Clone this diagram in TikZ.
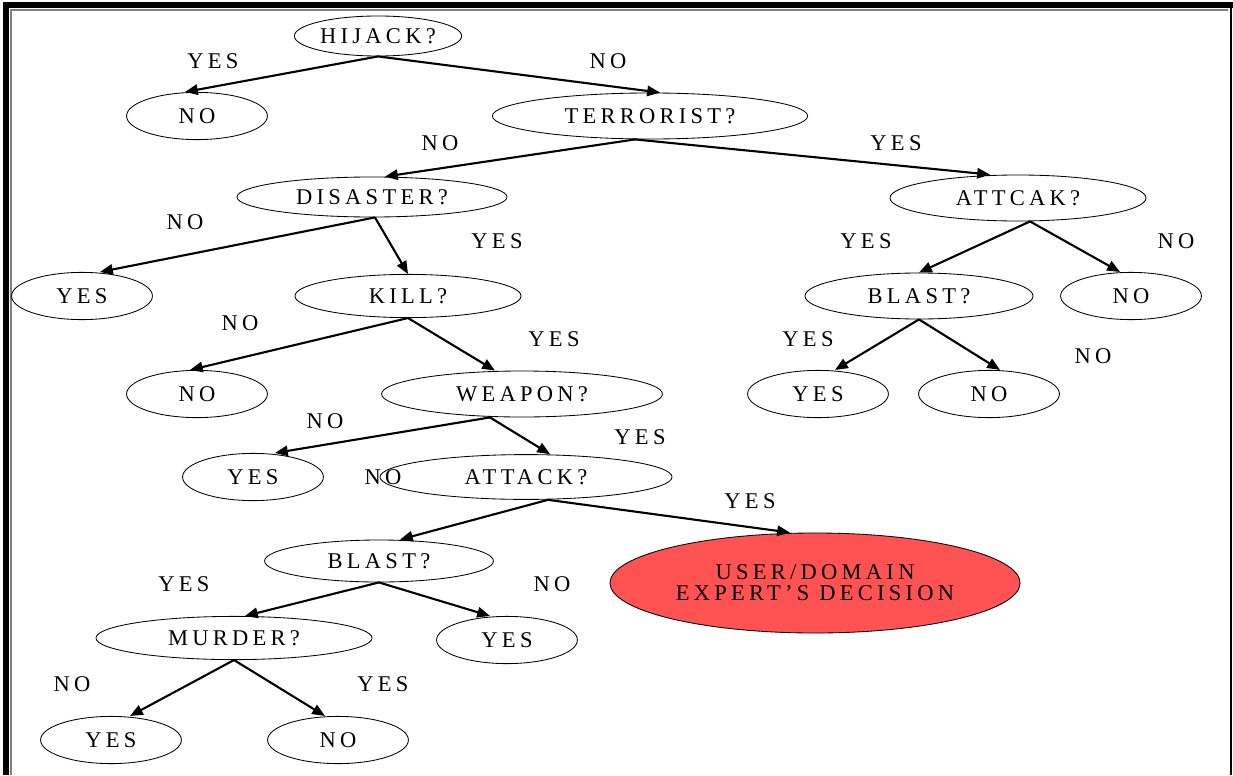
\documentclass[tikz,border=0pt]{standalone}
\usepackage{fontspec}
\usepackage{tikz}
\usetikzlibrary{arrows.meta,shapes.geometric,calc}
\newfontfamily\treefont[LetterSpace=19]{Liberation Serif}
\definecolor{verdictred}{HTML}{FF5252}
\tikzset{query/.style={ellipse,draw=black,line width=0.6pt,inner sep=0pt,minimum height=1.15cm,font=\fontsize{16}{15}\treefont,align=center}, leaf/.style={query,minimum width=3.52cm,minimum height=1.18cm}, verdict/.style={query,fill=verdictred,minimum width=10.25cm,minimum height=2.5cm}, branch/.style={-{Triangle[length=3.2mm,width=2.6mm]},line width=1.5pt}, ans/.style={font=\fontsize{16}{15}\treefont,inner sep=0pt}}

\begin{document}
\begin{tikzpicture}[x=0.025cm,y=-0.025cm]
\useasboundingbox (0,0) rectangle (1233,775);
% frame
\draw[line width=4.5pt] (6,775) -- (6,5) -- (1233,5);
\draw[gray,line width=1.2pt] (11,775) -- (11,10) -- (1228,10);
\draw[line width=1.6pt] (1231,5) -- (1231,775);
% questions
\node[query,minimum width=4.18cm,minimum height=1cm] (hijack) at (378,36) {HIJACK?};
\node[query,minimum width=7.88cm] (terror) at (650,116) {TERRORIST?};
\node[query,minimum width=6.75cm,minimum height=1cm] (disaster) at (372,197) {DISASTER?};
\node[query,minimum width=6.4cm] (attcak) at (1018,198) {ATTCAK?};
\node[query,minimum width=5.65cm,minimum height=1.08cm] (kill) at (408,296) {KILL?};
\node[query,minimum width=5.7cm] (blastR) at (919,296) {BLAST?};
\node[query,minimum width=7.02cm] (weapon) at (522,394) {WEAPON?};
\node[query,minimum width=7.3cm,minimum height=1.12cm] (attack) at (526,477) {ATTACK?};
\node[query,minimum width=5.72cm,minimum height=1.05cm] (blastL) at (379,561) {BLAST?};
\node[query,minimum width=6.9cm,minimum height=1.08cm] (murder) at (234,638) {MURDER?};
% leaves
\node[leaf] (hNo) at (197,116) {NO};
\node[leaf] (dYes) at (82,296) {YES};
\node[leaf] (aNo) at (1131,296) {NO};
\node[leaf] (kNo) at (197,394) {NO};
\node[leaf] (bRYes) at (818,394) {YES};
\node[leaf] (bRNo) at (989,394) {NO};
\node[leaf] (wYes) at (253,477) {YES};
\node[leaf] (bLYes) at (507,640) {YES};
\node[leaf] (mYes) at (111,740) {YES};
\node[leaf] (mNo) at (338,740) {NO};
\node[verdict] (expert) at (815,583) {USER/DOMAIN\\EXPERT’S DECISION};
% branches
\draw[branch] (hijack.south) -- ($(hNo.north)+(-12,0)$);
\draw[branch] (hijack.south) -- ($(terror.north)+(10,0)$);
\draw[branch] ($(terror.south)+(-15,0)$) -- ($(disaster.north)+(13,0)$);
\draw[branch] ($(terror.south)+(-15,0)$) -- ($(attcak.north)+(-28,0)$);
\draw[branch] ($(disaster.south)+(3,0)$) -- ($(dYes.north)+(18,0)$);
\draw[branch] ($(disaster.south)+(3,0)$) -- (kill.north);
\draw[branch] ($(attcak.south)+(12,0)$) -- (blastR.north);
\draw[branch] ($(attcak.south)+(12,0)$) -- ($(aNo.north)+(-11,0)$);
\draw[branch] (kill.south) -- ($(kNo.north)+(-7,0)$);
\draw[branch] (kill.south) -- ($(weapon.north)+(-27,0)$);
\draw[branch] (blastR.south) -- ($(bRYes.north)+(17,0)$);
\draw[branch] (blastR.south) -- ($(bRNo.north)+(11,0)$);
\draw[branch] ($(weapon.south)+(-32,0)$) -- ($(wYes.north)+(22,0)$);
\draw[branch] ($(weapon.south)+(-32,0)$) -- ($(attack.north)+(24,0)$);
\draw[branch] ($(attack.south)+(22,0)$) -- ($(blastL.north)+(21,0)$);
\draw[branch] ($(attack.south)+(22,0)$) -- ($(expert.north)+(-25,0)$);
\draw[branch] (blastL.south) -- ($(murder.north)+(11,0)$);
\draw[branch] (blastL.south) -- ($(bLYes.north)+(-17,0)$);
\draw[branch] (murder.south) -- ($(mYes.north)+(19,0)$);
\draw[branch] (murder.south) -- ($(mNo.north)+(-13,0)$);
% answers
\node[ans] (l1) at (213,61) {YES};
\node[ans] (l2) at (608,61) {NO};
\node[ans] (l3) at (440,143) {NO};
\node[ans] (l4) at (896,143) {YES};
\node[ans] (l5) at (185,222) {NO};
\node[ans] (l6) at (497,241) {YES};
\node[ans] (l7) at (866,241) {YES};
\node[ans] (l8) at (1176,241) {NO};
\node[ans] (l9) at (240,323) {NO};
\node[ans] (l10) at (554,339) {YES};
\node[ans] (l11) at (808,339) {YES};
\node[ans] (l12) at (1093,356) {NO};
\node[ans] (l13) at (325,421) {NO};
\node[ans] (l14) at (640,437) {YES};
\node[ans] (l15) at (383,477) {NO};
\node[ans] (l16) at (750,501) {YES};
\node[ans] (l17) at (184,584) {YES};
\node[ans] (l18) at (552,584) {NO};
\node[ans] (l19) at (72,684) {NO};
\node[ans] (l20) at (383,684) {YES};
\end{tikzpicture}
\end{document}
